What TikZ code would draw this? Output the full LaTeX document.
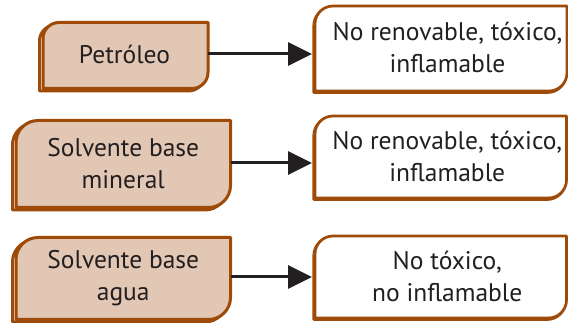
\documentclass[tikz,border=0pt]{standalone}
\usepackage{fontspec}
\setmainfont{PT Sans}
\usetikzlibrary{arrows.meta}
\definecolor{tanfill}{RGB}{225,199,180}
\definecolor{rust}{RGB}{158,74,8}
\definecolor{ink}{RGB}{35,31,32}

% outline of a box with rounded top-left and bottom-right corners
% #1 node, #2 corner radius, #3/#4 offset
\newcommand\leafoutline[4]{%
  ([shift={(#3,#4)}]#1.south west)
  -- ([shift={(#3,#4-#2)}]#1.north west)
  arc[start angle=180,end angle=90,radius=#2pt]
  -- ([shift={(#3,#4)}]#1.north east)
  -- ([shift={(#3,#4+#2)}]#1.south east)
  arc[start angle=0,end angle=-90,radius=#2pt]
  -- cycle}

% #1 node, #2 radius, #3 line width, #4/#5 shadow offset, #6 fill
\newcommand\leafbox[6]{%
  \draw[rust, line width=#3, line join=round] \leafoutline{#1}{#2}{#4}{#5};
  \filldraw[draw=rust, fill=#6, line width=#3, line join=round] \leafoutline{#1}{#2}{0}{0};
}

\tikzset{
  slot/.style={inner sep=0pt, outer sep=0pt, minimum width=#1},
  label/.style={text=ink, align=center, inner sep=0pt,
    font=\fontsize{25.5}{32}\selectfont},
  arrow/.style={draw=ink, line width=3pt,
    -{Triangle[length=24pt,width=23pt]}, shorten >=3pt},
}

\begin{document}
\begin{tikzpicture}[x=1pt,y=1pt]
\useasboundingbox (0,0) rectangle (568,323);

% left boxes
\node[slot=165pt, minimum height=66pt] (l1) at (125.5,267.5) {};
\node[slot=214.5pt, minimum height=87pt] (l2) at (123.25,159) {};
\node[slot=214.5pt, minimum height=82pt] (l3) at (123.25,44.5) {};
% right boxes
\node[slot=252pt, minimum height=85pt] (r1) at (441,274.5) {};
\node[slot=251.5pt, minimum height=82pt] (r2) at (440.75,166) {};
\node[slot=251.5pt, minimum height=82pt] (r3) at (440.75,46) {};

\leafbox{l1}{16}{3pt}{-3.5}{-2.5}{tanfill}
\leafbox{l2}{22}{3pt}{-3.5}{-2.5}{tanfill}
\leafbox{l3}{22}{3pt}{-3.5}{-2.5}{tanfill}
\leafbox{r1}{18}{2.7pt}{-1.2}{-1.5}{white}
\leafbox{r2}{18}{2.7pt}{-1.2}{-1.5}{white}
\leafbox{r3}{18}{2.7pt}{-1.2}{-1.5}{white}

\node[label] (t1) at ([shift={(-1,1)}]l1.center) {Petróleo};
\node[label] (t2) at ([shift={(0,0)}]l2.center) {Solvente base\\mineral};
\node[label] (t3) at ([shift={(0,0)}]l3.center) {Solvente base\\agua};
\node[label] (u1) at ([shift={(6.5,1)}]r1.center) {No renovable, tóxico,\\inflamable};
\node[label] (u2) at ([shift={(6.5,1)}]r2.center) {No renovable, tóxico,\\inflamable};
\node[label] (u3) at ([shift={(6.5,1)}]r3.center) {No tóxico,\\no inflamable};

\draw[arrow] ([yshift=1.5]l1.east) -- ([yshift=1.5]l1.east -| r1.west);
\draw[arrow] ([yshift=1]l2.east) -- ([yshift=1]l2.east -| r2.west);
\draw[arrow] ([yshift=1.5]l3.east) -- ([yshift=1.5]l3.east -| r3.west);
\end{tikzpicture}
\end{document}
